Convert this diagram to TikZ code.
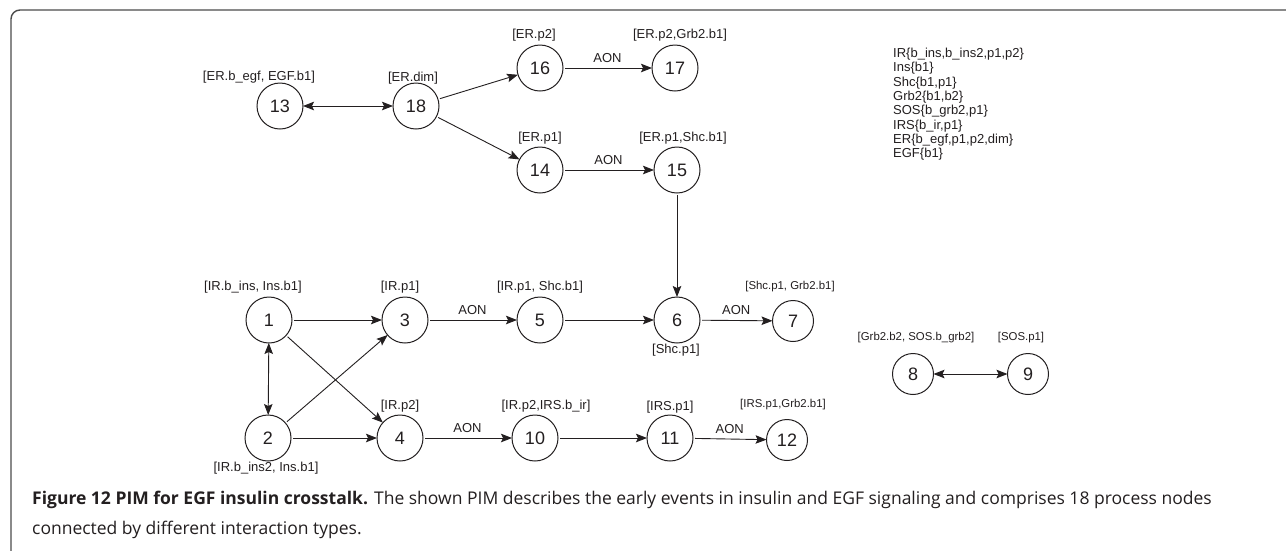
\documentclass[tikz,border=0pt]{standalone}
\usepackage{fontspec}
\setmainfont{Liberation Sans}
\newfontfamily\capfont{Open Sans}
\usetikzlibrary{arrows.meta}
\definecolor{ink}{HTML}{231F20}
\begin{document}
\begin{tikzpicture}[x=1pt,y=-1pt,
  proc/.style={circle,draw=ink,line width=1pt,minimum size=46pt,inner sep=0pt,outer sep=0pt,text=ink,font=\fontsize{18}{18}\selectfont},
  sproc/.style={proc,minimum size=41pt},
  lbl/.style={inner sep=0pt,text=ink,font=\fontsize{13}{13}\selectfont},
  slbl/.style={lbl,font=\fontsize{11.4}{11.4}\selectfont},
  leg/.style={lbl,anchor=base west},
  arr/.style={draw=ink,line width=0.9pt,shorten <=2pt,-{Stealth[length=11pt,width=8.5pt,inset=2pt]}},
  darr/.style={draw=ink,line width=0.9pt,{Stealth[length=11pt,width=8.5pt,inset=2pt]}-{Stealth[length=11pt,width=8.5pt,inset=2pt]}},
  capstyle/.style={anchor=base west,inner sep=0pt,text=ink,font=\capfont\fontsize{17.5}{17.5}\selectfont}
]
\useasboundingbox (0,0) rectangle (1286,550);
\fill[white] (0,0) rectangle (1286,550);
% frame
\draw[black!70,line width=1.4pt,rounded corners=9pt] (11,552) -- (11,10) -- (1288,10);

% process nodes
\node[proc] (n13) at (280,106) {13};
\node[proc] (n18) at (416,106) {18};
\node[proc] (n16) at (540,68) {16};
\node[proc] (n17) at (675,68) {17};
\node[proc] (n14) at (540,170) {14};
\node[proc] (n15) at (677,170) {15};
\node[proc] (n1) at (269,320) {1};
\node[proc] (n3) at (405,320) {3};
\node[proc] (n5) at (540,320) {5};
\node[proc] (n6) at (677,320) {6};
\node[sproc] (n7) at (793,321) {7};
\node[proc] (n2) at (268,438) {2};
\node[proc] (n4) at (400,438) {4};
\node[proc] (n10) at (535,438) {10};
\node[proc] (n11) at (670,438) {11};
\node[sproc] (n12) at (787,440) {12};
\node[sproc] (n8) at (913,374) {8};
\node[sproc] (n9) at (1028,374) {9};

% state labels
\node[lbl] (l13) at (259,77) {[ER.b\_egf, EGF.b1]};
\node[lbl] (l18) at (413,78) {[ER.dim]};
\node[lbl] (l16) at (534,35) {[ER.p2]};
\node[lbl] (l17) at (680,35) {[ER.p2,Grb2.b1]};
\node[lbl] (l14) at (540,138) {[ER.p1]};
\node[lbl] (l15) at (683,138) {[ER.p1,Shc.b1]};
\node[lbl] (l1) at (253,287) {[IR.b\_ins, Ins.b1]};
\node[lbl] (l3) at (400,287) {[IR.p1]};
\node[lbl] (l5) at (540,287) {[IR.p1, Shc.b1]};
\node[lbl] (l6) at (676,350) {[Shc.p1]};
\node[slbl] (l7) at (790,287) {[Shc.p1, Grb2.b1]};
\node[slbl] (l8) at (916,338) {[Grb2.b2, SOS.b\_grb2]};
\node[slbl] (l9) at (1021,338) {[SOS.p1]};
\node[lbl] (l4) at (400,406) {[IR.p2]};
\node[lbl] (l10) at (546,406) {[IR.p2,IRS.b\_ir]};
\node[lbl] (l11) at (670,407) {[IRS.p1]};
\node[slbl] (l12) at (783,405) {[IRS.p1,Grb2.b1]};
\node[lbl] (l2) at (266,468) {[IR.b\_ins2, Ins.b1]};

% legend
\node[leg] (g1) at (893,57.5) {IR\{b\_ins,b\_ins2,p1,p2\}};
\node[leg] (g2) at (893,71.8) {Ins\{b1\}};
\node[leg] (g3) at (893,86.1) {Shc\{b1,p1\}};
\node[leg] (g4) at (893,100.4) {Grb2\{b1,b2\}};
\node[leg] (g5) at (893,114.7) {SOS\{b\_grb2,p1\}};
\node[leg] (g6) at (893,129.0) {IRS\{b\_ir,p1\}};
\node[leg] (g7) at (893,143.3) {ER\{b\_egf,p1,p2,dim\}};
\node[leg] (g8) at (893,157.6) {EGF\{b1\}};

% connectors
\draw[darr] (n13) -- (n18);
\draw[arr] (n18) -- (n16);
\draw[arr] (n18) -- (n14);
\draw[arr] (n16) -- node[lbl,above=5pt] (a1) {AON} (n17);
\draw[arr] (n14) -- node[lbl,above=5pt] (a2) {AON} (n15);
\draw[arr] (n15) -- (n6);
\draw[arr] (n1) -- (n3);
\draw[arr] (n1) -- (n4);
\draw[darr] (n1) -- (n2);
\draw[arr] (n2) -- (n3);
\draw[arr] (n2) -- (n4);
\draw[arr] (n3) -- node[lbl,above=5pt] (a3) {AON} (n5);
\draw[arr] (n5) -- (n6);
\draw[arr] (n6) -- node[lbl,above=5pt] (a4) {AON} (n7);
\draw[arr] (n4) -- node[lbl,above=5pt] (a5) {AON} (n10);
\draw[arr] (n10) -- (n11);
\draw[arr] (n11) -- node[lbl,above=5pt] (a6) {AON} (n12);
\draw[darr] (n8) -- (n9);

% caption
\node[capstyle] (cap1) at (32,504) {\textbf{Figure 12 PIM for EGF insulin crosstalk.} The shown PIM describes the early events in insulin and EGF signaling and comprises 18 process nodes};
\node[capstyle] (cap2) at (32,534) {connected by different interaction types.};
\end{tikzpicture}
\end{document}
